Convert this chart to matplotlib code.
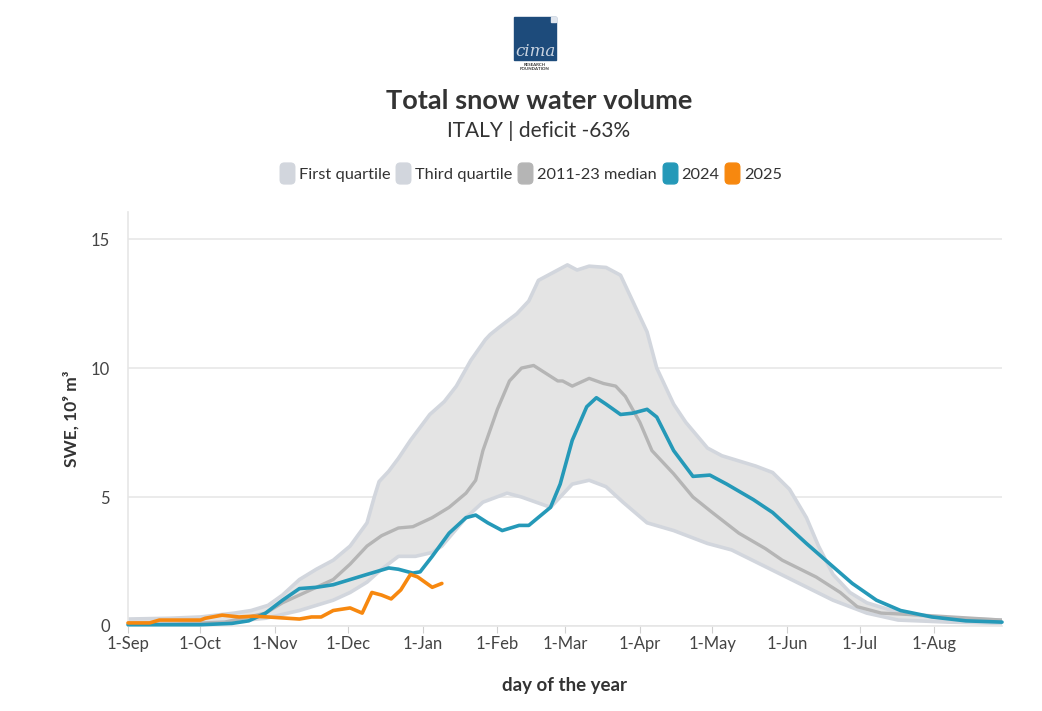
import matplotlib.pyplot as plt
import numpy as np
import pandas as pd
from matplotlib.lines import Line2D
from matplotlib.patches import Rectangle, FancyBboxPatch

plt.rcParams["font.family"] = ["Lato", "DejaVu Sans"]

# 0. data (day of season counted from 1-Sep, SWE in 10^9 m3)
months = ["1-Sep", "1-Oct", "1-Nov", "1-Dec", "1-Jan", "1-Feb",
          "1-Mar", "1-Apr", "1-May", "1-Jun", "1-Jul", "1-Aug"]

q3_day = [0, 17, 30, 44, 51, 58, 64, 71, 78, 85, 92, 99, 102, 104, 108, 112, 117,
          125, 131, 136, 142, 148, 150, 154, 161, 166, 170, 176, 182, 186, 191, 198,
          204, 209, 215, 219, 226, 231, 240, 246, 260, 267, 274, 281, 286, 292, 299,
          306, 320, 333, 347, 362]
q3_val = [0.27, 0.3, 0.35, 0.5, 0.6, 0.8, 1.2, 1.8, 2.2, 2.55, 3.1, 4.0, 5.0, 5.6, 6.0,
          6.5, 7.2, 8.2, 8.7, 9.3, 10.3, 11.1, 11.3, 11.6, 12.1, 12.6, 13.4, 13.7, 14.0,
          13.8, 13.95, 13.9, 13.6, 12.6, 11.4, 10.0, 8.6, 7.9, 6.9, 6.6, 6.2, 5.95, 5.3,
          4.2, 3.1, 2.0, 1.3, 0.9, 0.5, 0.35, 0.28, 0.23]

q1_day = [0, 20, 40, 57, 71, 85, 92, 99, 105, 112, 119, 126, 130, 140, 147, 157, 163,
          175, 184, 191, 198, 205, 215, 226, 240, 250, 264, 278, 292, 306, 319, 340, 362]
q1_val = [0.1, 0.1, 0.15, 0.3, 0.6, 1.0, 1.3, 1.7, 2.2, 2.7, 2.7, 2.85, 3.1, 4.2, 4.8,
          5.15, 5.0, 4.6, 5.5, 5.65, 5.4, 4.8, 4.0, 3.7, 3.2, 2.95, 2.3, 1.65, 1.0, 0.5,
          0.23, 0.15, 0.1]

med_day = [0, 20, 40, 50, 57, 64, 71, 78, 85, 92, 99, 105, 112, 118, 126, 133, 140, 144,
           147, 153, 158, 163, 168, 173, 178, 180, 184, 191, 197, 202, 206, 212, 217,
           226, 234, 242, 253, 264, 271, 285, 295, 302, 312, 327, 362]
med_val = [0.05, 0.08, 0.15, 0.35, 0.5, 0.9, 1.2, 1.5, 1.8, 2.4, 3.1, 3.5, 3.8, 3.85,
           4.2, 4.6, 5.15, 5.65, 6.8, 8.4, 9.5, 10.0, 10.1, 9.8, 9.5, 9.5, 9.3, 9.6, 9.4,
           9.3, 8.9, 7.9, 6.8, 5.9, 5.0, 4.4, 3.6, 3.0, 2.55, 1.9, 1.3, 0.75, 0.5, 0.43,
           0.23]

y24_day = [0, 30, 43, 50, 57, 64, 71, 78, 85, 92, 99, 108, 112, 118, 121, 126, 133, 140,
           144, 149, 155, 162, 166, 175, 179, 184, 190, 194, 198, 204, 209, 215, 219,
           226, 234, 241, 248, 259, 267, 274, 281, 292, 300, 310, 320, 333, 347, 362]
y24_val = [0.05, 0.05, 0.1, 0.2, 0.5, 1.0, 1.45, 1.5, 1.6, 1.8, 2.0, 2.25, 2.2, 2.05,
           2.1, 2.7, 3.6, 4.2, 4.3, 4.0, 3.7, 3.9, 3.9, 4.6, 5.5, 7.2, 8.5, 8.85, 8.6,
           8.2, 8.25, 8.4, 8.1, 6.8, 5.8, 5.85, 5.5, 4.9, 4.4, 3.8, 3.2, 2.3, 1.65, 1.0,
           0.6, 0.35, 0.2, 0.15]

y25_day = [0, 9, 13, 30, 32, 39, 46, 52, 58, 71, 76, 80, 85, 92, 97, 101, 105, 109, 113,
           117, 120, 126, 130]
y25_val = [0.12, 0.12, 0.23, 0.23, 0.3, 0.42, 0.35, 0.38, 0.35, 0.27, 0.35, 0.35, 0.6,
           0.7, 0.5, 1.3, 1.2, 1.05, 1.4, 2.0, 1.9, 1.5, 1.65]

# month tick positions
start = pd.Timestamp("2024-09-01")
month_pos = [(d - start).days for d in pd.date_range(start, periods=12, freq="MS")]

band_edge = "#d2d6dd"
band_fill = "#e4e4e4"
c_med = "#b5b5b5"
c24 = "#2599b8"
c25 = "#f7880f"

# 1. figure
fig = plt.figure(figsize=(10.42, 7.11), dpi=100)
ax = fig.add_axes([128 / 1042, 85 / 711, 874 / 1042, 414 / 711])

# 2. bands and lines
q_days = sorted(set(q1_day) | set(q3_day))
lo = np.interp(q_days, q1_day, q1_val)
hi = np.interp(q_days, q3_day, q3_val)
ax.fill_between(q_days, lo, hi, color=band_fill, lw=0, zorder=1)
kw = dict(solid_joinstyle="round", solid_capstyle="round")
ax.plot(q3_day, q3_val, color=band_edge, lw=2.6, zorder=2, **kw)
ax.plot(q1_day, q1_val, color=band_edge, lw=2.6, zorder=2, **kw)
ax.plot(med_day, med_val, color=c_med, lw=2.4, zorder=3, **kw)
ax.plot(y24_day, y24_val, color=c24, lw=2.6, zorder=4, clip_on=False, **kw)
ax.plot(y25_day, y25_val, color=c25, lw=2.6, zorder=5, clip_on=False, **kw)

# 3. axes style
ax.set_xlim(0, 362)
ax.set_ylim(0, 16.05)
ax.set_xticks(month_pos)
ax.set_xticklabels(months)
ax.set_yticks([0, 5, 10, 15])
ax.grid(axis="y", color="#e8e8e8", lw=1.2)
ax.set_axisbelow(True)
for s in ["top", "right"]:
    ax.spines[s].set_visible(False)
for s in ["left", "bottom"]:
    ax.spines[s].set_color("#e6e6e6")
    ax.spines[s].set_linewidth(1.2)
ax.tick_params(axis="x", length=5, color="#d0d0d0", labelcolor="#444444",
               labelsize=12, pad=2)
ax.tick_params(axis="y", length=0, labelcolor="#444444", labelsize=12, pad=13)
ax.set_xlabel("day of the year", fontsize=13.5, fontweight="bold", color="#333333",
              labelpad=18)
ax.set_ylabel("SWE, 10⁹ m³", fontsize=12.5, fontweight="bold", color="#333333",
              labelpad=8)

# 4. title, subtitle
fig.text(0.517, 1 - 101 / 711, "Total snow water volume", ha="center", va="center",
         fontsize=19.5, fontweight="bold", color="#333333")
fig.text(0.517, 1 - 131 / 711, "ITALY | deficit -63%", ha="center", va="center",
         fontsize=15, color="#333333")

# 5. legend with rounded markers
rr = FancyBboxPatch((-0.35, -0.5), 0.7, 1.0,
                    boxstyle="round,pad=0,rounding_size=0.2").get_path()
leg_colors = [band_edge, band_edge, c_med, c24, c25]
handles = [Line2D([], [], ls="", marker=rr, ms=15, mfc=c, mec=c) for c in leg_colors]
labels = ["First quartile", "Third quartile", "2011-23 median", "2024", "2025"]
fig.legend(handles, labels, loc="center", bbox_to_anchor=(0.509, 1 - 175 / 711),
           ncol=5, frameon=False, fontsize=11.8, handletextpad=0.2,
           columnspacing=0.3, labelcolor="#333333", handlelength=1.0)

# 6. logo
fig.patches.append(Rectangle((514 / 1042, 1 - 60 / 711), 42 / 1042, 43 / 711,
                             transform=fig.transFigure, color="#1d4b7b", zorder=0))
fig.patches.append(Rectangle((551 / 1042, 1 - 22 / 711), 5 / 1042, 5 / 711,
                             transform=fig.transFigure, color="#dfe5ee", zorder=1))
fig.text(535 / 1042, 1 - 51 / 711, "cima", ha="center", va="center", fontsize=12,
         color="#c9d3e0", family="DejaVu Serif", style="italic")
fig.text(535 / 1042, 1 - 64.5 / 711, "RESEARCH", ha="center", va="center",
         fontsize=3.2, color="#333333", fontweight="bold")
fig.text(535 / 1042, 1 - 69 / 711, "FOUNDATION", ha="center", va="center",
         fontsize=3.2, color="#333333", fontweight="bold")

plt.savefig("out.png", dpi=100)
